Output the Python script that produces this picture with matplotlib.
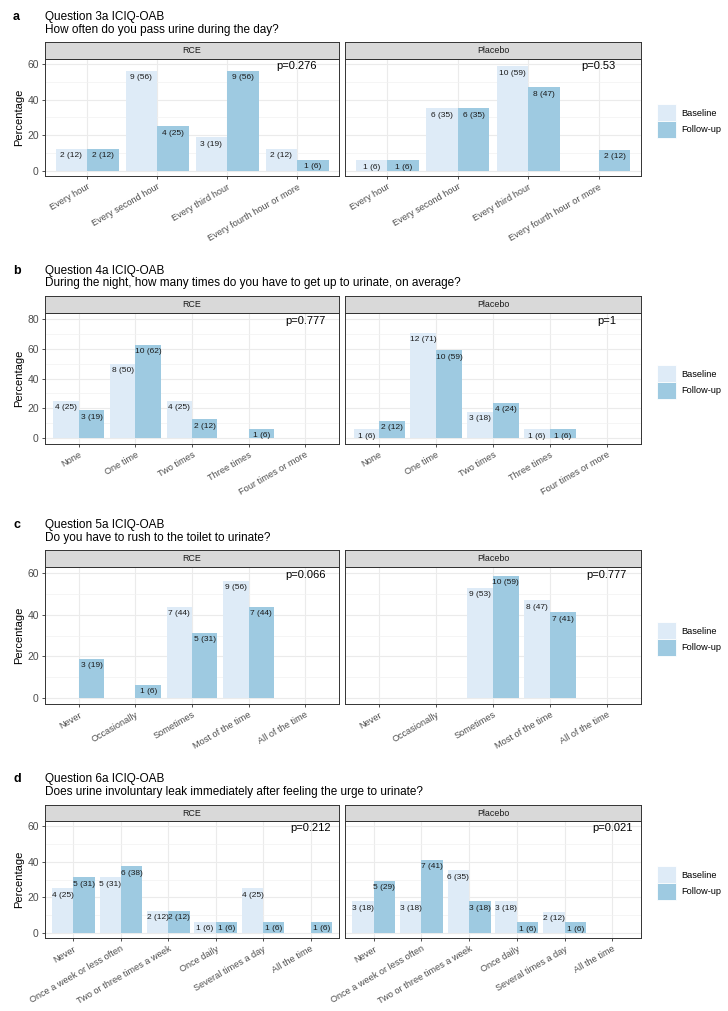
import numpy as np
import matplotlib.pyplot as plt
from matplotlib.patches import Patch

plt.rcParams["font.family"] = ["Liberation Sans", "DejaVu Sans"]

W, H = 728, 1011

groups = ["RCE", "Placebo"]
n_group = [16, 17]
col_base = "#DEEBF7"
col_fu = "#9ECAE1"

# a - Question 3a
a_cats = ["Every hour", "Every second hour", "Every third hour", "Every fourth hour or more"]
a_rce_base = [2, 9, 3, 2]
a_rce_fu = [2, 4, 9, 1]
a_pla_base = [1, 6, 10, 0]
a_pla_fu = [1, 6, 8, 2]
a_p = ["p=0.276", "p=0.53"]

# b - Question 4a
b_cats = ["None", "One time", "Two times", "Three times", "Four times or more"]
b_rce_base = [4, 8, 4, 0, 0]
b_rce_fu = [3, 10, 2, 1, 0]
b_pla_base = [1, 12, 3, 1, 0]
b_pla_fu = [2, 10, 4, 1, 0]
b_p = ["p=0.777", "p=1"]

# c - Question 5a
c_cats = ["Never", "Occasionally", "Sometimes", "Most of the time", "All of the time"]
c_rce_base = [0, 0, 7, 9, 0]
c_rce_fu = [3, 1, 5, 7, 0]
c_pla_base = [0, 0, 9, 8, 0]
c_pla_fu = [0, 0, 10, 7, 0]
c_p = ["p=0.066", "p=0.777"]

# d - Question 6a
d_cats = ["Never", "Once a week or less often", "Two or three times a week",
          "Once daily", "Several times a day", "All the time"]
d_rce_base = [4, 5, 2, 1, 4, 0]
d_rce_fu = [5, 6, 2, 1, 1, 1]
d_pla_base = [3, 3, 6, 3, 2, 0]
d_pla_fu = [5, 7, 3, 1, 1, 0]
d_p = ["p=0.212", "p=0.021"]

panels = [
    dict(tag="a", t1="Question 3a ICIQ-OAB", t2="How often do you pass urine during the day?",
         cats=a_cats, data=[(a_rce_base, a_rce_fu), (a_pla_base, a_pla_fu)], p=a_p,
         ty=(17, 30), strip=(42, 59), bottom=176, leg=121, top=60),
    dict(tag="b", t1="Question 4a ICIQ-OAB",
         t2="During the night, how many times do you have to get up to urinate, on average?",
         cats=b_cats, data=[(b_rce_base, b_rce_fu), (b_pla_base, b_pla_fu)], p=b_p,
         ty=(271, 283), strip=(296, 313), bottom=444, leg=382, top=80),
    dict(tag="c", t1="Question 5a ICIQ-OAB", t2="Do you have to rush to the toilet to urinate?",
         cats=c_cats, data=[(c_rce_base, c_rce_fu), (c_pla_base, c_pla_fu)], p=c_p,
         ty=(525, 538), strip=(550, 567), bottom=704, leg=639, top=60),
    dict(tag="d", t1="Question 6a ICIQ-OAB",
         t2="Does urine involuntary leak immediately after feeling the urge to urinate?",
         cats=d_cats, data=[(d_rce_base, d_rce_fu), (d_pla_base, d_pla_fu)], p=d_p,
         ty=(779, 792), strip=(805, 821), bottom=938, leg=883, top=60),
]

xl = [45, 345]
xr = [339, 641]

fig = plt.figure(figsize=(W / 100, H / 100), dpi=100)


def px_axes(x0, y0, x1, y1):
    return fig.add_axes([x0 / W, 1 - y1 / H, (x1 - x0) / W, (y1 - y0) / H])


for pn in panels:
    fig.text(13 / W, 1 - pn["ty"][0] / H, pn["tag"], fontsize=9, weight="bold", va="center")
    fig.text(45 / W, 1 - pn["ty"][0] / H, pn["t1"], fontsize=8.5, va="center")
    fig.text(45 / W, 1 - pn["ty"][1] / H, pn["t2"], fontsize=8.5, va="center")
    n = len(pn["cats"])
    x = np.arange(1, n + 1)
    L = pn["top"]
    for g in range(2):
        base, fu = pn["data"][g]
        ax = px_axes(xl[g], pn["strip"][1], xr[g], pn["bottom"])
        for counts, off, col in [(base, -0.225, col_base), (fu, 0.225, col_fu)]:
            pct = np.array(counts) / n_group[g] * 100
            keep = np.array(counts) > 0
            ax.bar(x[keep] + off, pct[keep], width=0.45, color=col, zorder=2)
            for xi, ci, pi in zip(x[keep], np.array(counts)[keep], pct[keep]):
                ax.annotate(f"{ci} ({round(pi)})", (xi + off, pi), xytext=(0, -2.5),
                            textcoords="offset points", ha="center", va="top",
                            fontsize=6, color="#1A1A1A", zorder=3)
        ax.annotate(pn["p"][g], (n, L), xytext=(0, -1.2), textcoords="offset points",
                    ha="center", va="center", fontsize=8, zorder=3)
        ax.set_xlim(0.4, n + 0.6)
        ax.set_ylim(-0.05 * L, 1.05 * L)
        ax.set_yticks(np.arange(0, L + 1, 20))
        ax.set_yticks(np.arange(10, L + 1, 20), minor=True)
        ax.set_xticks(x)
        ax.grid(which="major", color="#EBEBEB", linewidth=0.8, zorder=0)
        ax.grid(which="minor", axis="y", color="#F2F2F2", linewidth=0.5, zorder=0)
        ax.set_axisbelow(True)
        ax.tick_params(which="major", length=2.5, width=0.6, color="#333333",
                       labelcolor="#4D4D4D", pad=2)
        ax.tick_params(axis="y", labelsize=7.5)
        ax.tick_params(which="minor", length=0)
        ax.set_xticklabels(pn["cats"], rotation=30, ha="right", rotation_mode="anchor",
                           fontsize=6.6, color="#4D4D4D")
        for s in ax.spines.values():
            s.set_color("#333333")
            s.set_linewidth(0.7)
        if g == 0:
            ax.set_ylabel("Percentage", fontsize=8, labelpad=2)
        else:
            ax.tick_params(axis="y", left=False, labelleft=False)

        st = px_axes(xl[g], pn["strip"][0], xr[g], pn["strip"][1])
        st.set_facecolor("#D9D9D9")
        st.set_xticks([])
        st.set_yticks([])
        for s in st.spines.values():
            s.set_color("#333333")
            s.set_linewidth(0.7)
        st.text(0.5, 0.5, groups[g], ha="center", va="center", fontsize=6.4,
                color="#1A1A1A", transform=st.transAxes)

    handles = [Patch(facecolor=col_base, edgecolor="white", linewidth=0.6),
               Patch(facecolor=col_fu, edgecolor="white", linewidth=0.6)]
    fig.legend(handles, ["Baseline", "Follow-up"], loc="center left",
               bbox_to_anchor=(657 / W, 1 - pn["leg"] / H), frameon=False,
               fontsize=6.6, handlelength=2.1, handleheight=2.4, labelspacing=0.0,
               handletextpad=0.6, borderpad=0, borderaxespad=0)

fig.savefig("out.png", dpi=100)
